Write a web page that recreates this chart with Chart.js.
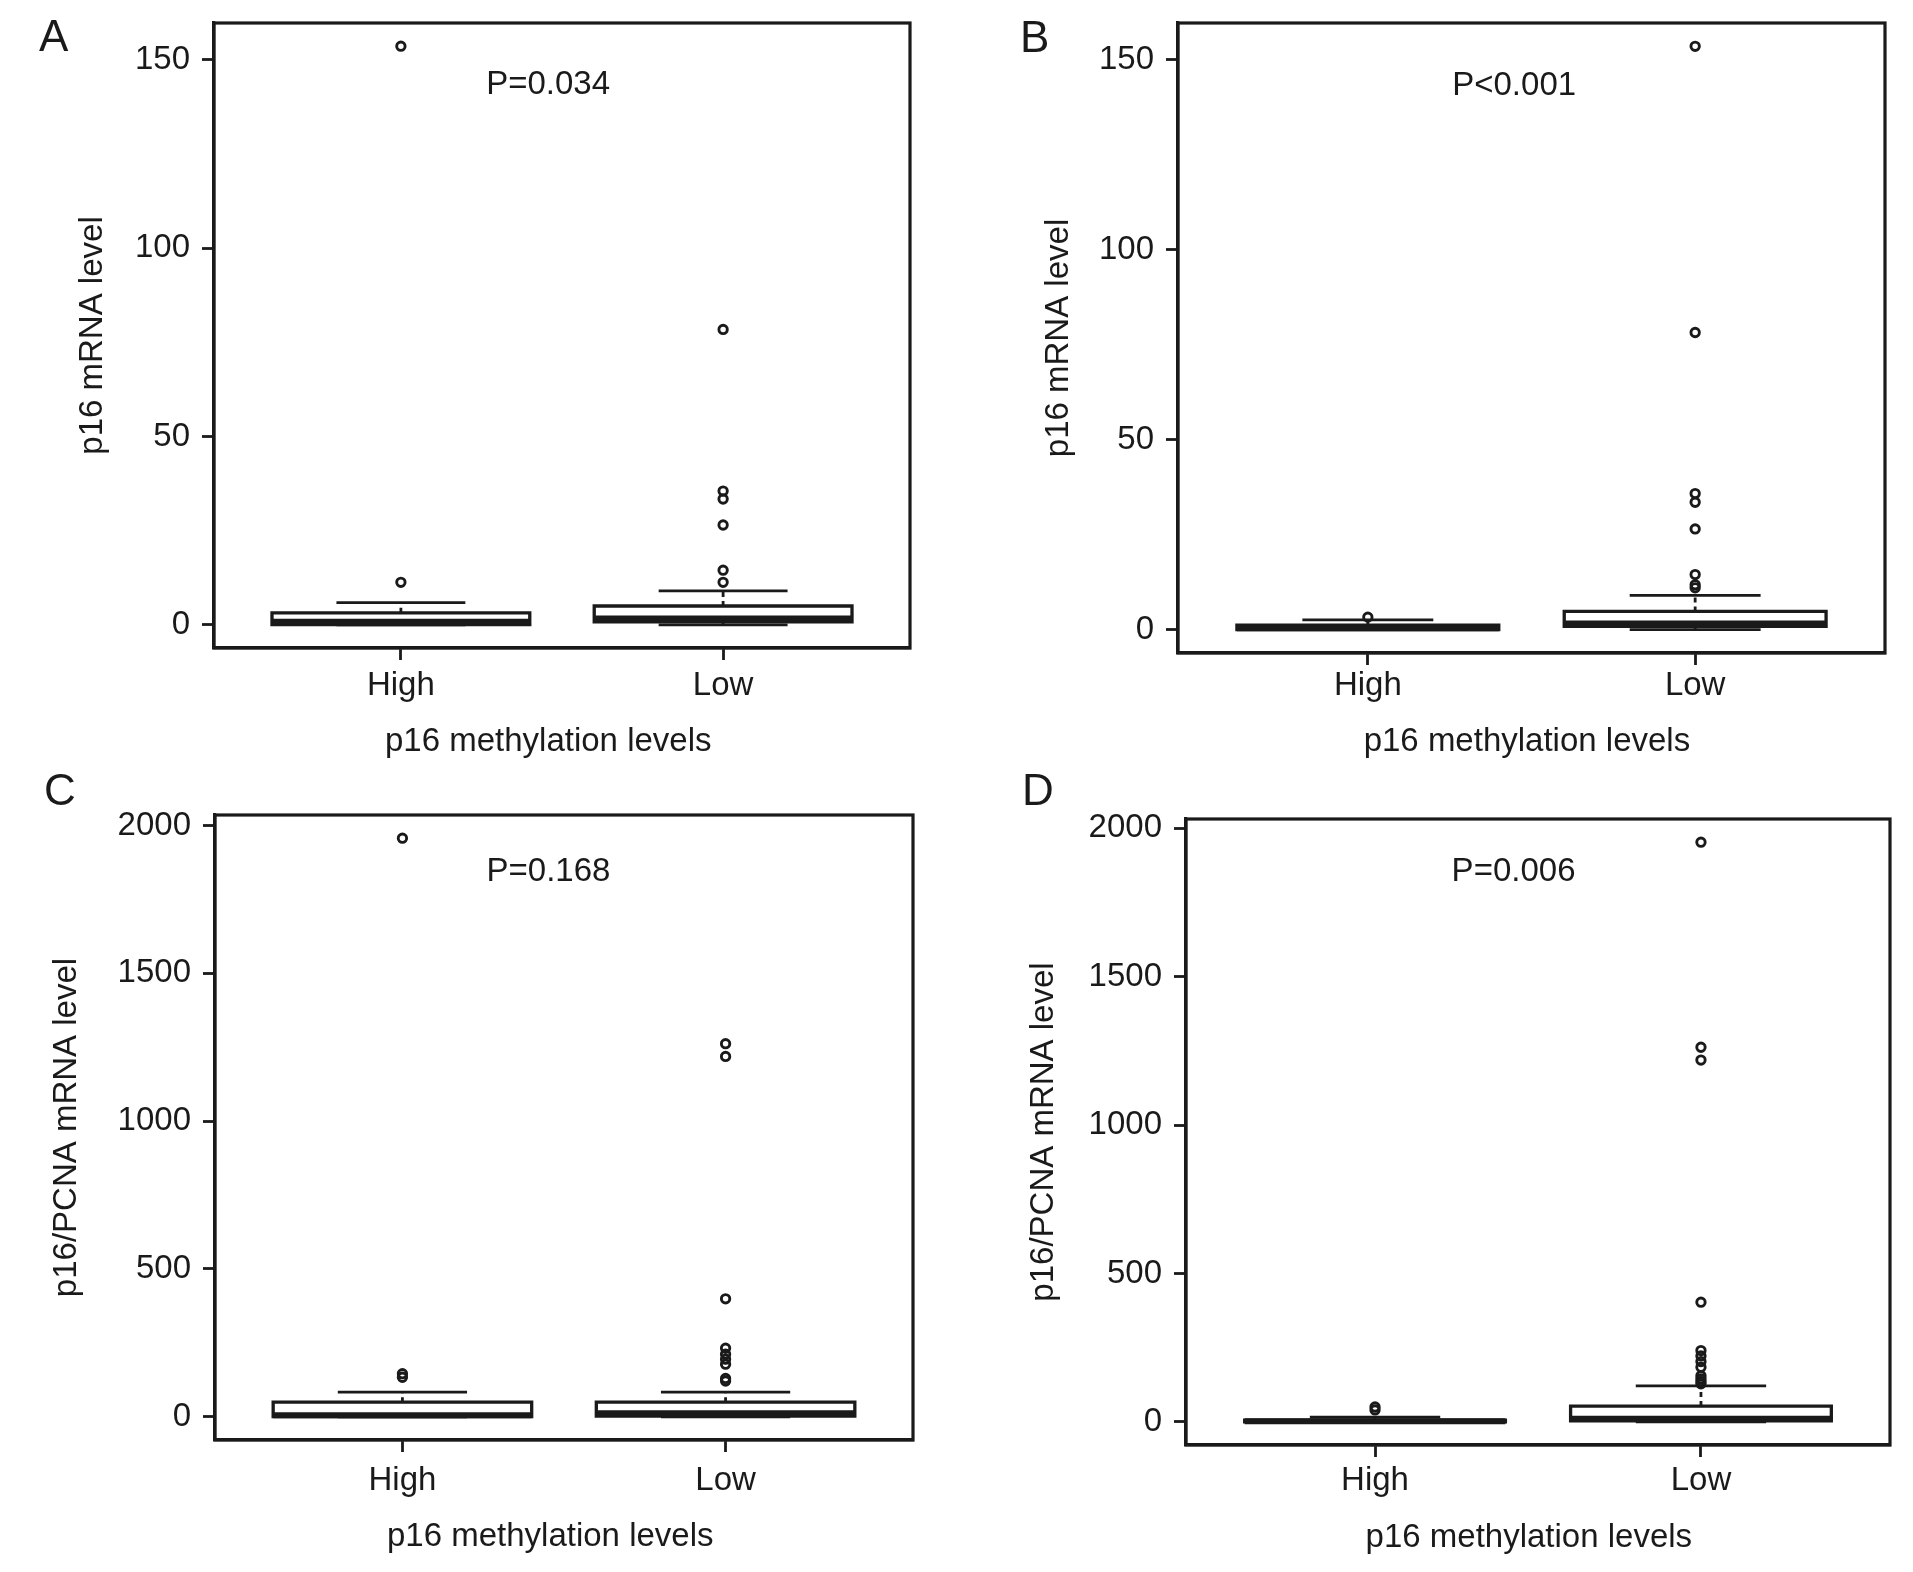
<!DOCTYPE html>
<html>
<head>
<meta charset="utf-8">
<script src="https://cdn.jsdelivr.net/npm/chart.js@4.4.1/dist/chart.umd.min.js"></script>
<style>
  html, body { margin: 0; padding: 0; background: #ffffff; }
  body { width: 1913px; height: 1572px; position: relative; overflow: hidden; }
  canvas { position: absolute; }
</style>
</head>
<body>
<script>
// ---------------- DATA ----------------
const categories = ['High', 'Low'];
const yTicksMRNA = [0, 50, 100, 150];
const yTicksRatio = [0, 500, 1000, 1500, 2000];
const pLabels = ['P=0.034', 'P<0.001', 'P=0.168', 'P=0.006'];
const panelLetters = ['A', 'B', 'C', 'D'];
const yTitleMRNA = 'p16 mRNA level';
const yTitleRatio = 'p16/PCNA mRNA level';
const xTitle = 'p16 methylation levels';

// box stats: [lower whisker, Q1, median, Q3, upper whisker]
const statsA_High = [0, 0.1, 0.8, 3.2, 5.9];
const statsA_Low  = [0, 0.8, 1.7, 5.0, 9.0];
const outliersA_High = [153.6, 11.3];
const outliersA_Low  = [78.4, 35.5, 33.4, 26.5, 14.5, 11.3];

const statsB_High = [0, 0, 0.4, 1.2, 2.6];
const statsB_Low  = [0, 0.9, 1.6, 4.8, 9.0];
const outliersB_High = [3.3];
const outliersB_Low  = [153.5, 78.2, 35.8, 33.5, 26.5, 14.5, 11.8, 11.0];

const statsC_High = [0, 0.5, 5.6, 49.6, 83.5];
const statsC_Low  = [0, 2.8, 12.0, 49.6, 83.5];
const outliersC_High = [1957, 146, 134];
const outliersC_Low  = [1262, 1219, 399, 232, 212, 195, 178, 130, 121];

const statsD_High = [0, 0.3, 1.5, 5.5, 16];
const statsD_Low  = [0, 3.5, 10.0, 53, 121];
const outliersD_High = [50, 40];
const outliersD_Low  = [1953, 1262, 1219, 403, 240, 222, 203, 184, 155, 145, 136, 128];

// ---------------- LAYOUT (page pixels) ----------------
const FONT = '"Liberation Sans", Arial, Helvetica, sans-serif';
const INK = '#1a1a1a';
const panels = [
  { canvas: [0, 0, 956, 766],    plot: [214, 23, 910, 648],   yTitleX: 93,  xTitleY: 742, xLabelY: 686, xTitleShift: 3,
    stats: [statsA_High, statsA_Low], outliers: [outliersA_High, outliersA_Low], yTicks: yTicksMRNA, yTitle: yTitleMRNA,
    p: pLabels[0], pPos: [1.457, 143.2], letter: panelLetters[0], letterPos: [39, 51] },
  { canvas: [956, 0, 957, 766],  plot: [1178, 23, 1885, 653], yTitleX: 1059, xTitleY: 742, xLabelY: 686, xTitleShift: 1,
    stats: [statsB_High, statsB_Low], outliers: [outliersB_High, outliersB_Low], yTicks: yTicksMRNA, yTitle: yTitleMRNA,
    p: pLabels[1], pPos: [1.447, 143.2], letter: panelLetters[1], letterPos: [1020, 52] },
  { canvas: [0, 766, 956, 806],  plot: [215, 815, 913, 1440], yTitleX: 67,  xTitleY: 1537, xLabelY: 1481, xTitleShift: 3,
    stats: [statsC_High, statsC_Low], outliers: [outliersC_High, outliersC_Low], yTicks: yTicksRatio, yTitle: yTitleRatio,
    p: pLabels[2], pPos: [1.452, 1844], letter: panelLetters[2], letterPos: [44, 805] },
  { canvas: [956, 766, 957, 806], plot: [1186, 819, 1890, 1445], yTitleX: 1044, xTitleY: 1538, xLabelY: 1481, xTitleShift: 2,
    stats: [statsD_High, statsD_Low], outliers: [outliersD_High, outliersD_Low], yTicks: yTicksRatio, yTitle: yTitleRatio,
    p: pLabels[3], pPos: [1.425, 1854], letter: panelLetters[3], letterPos: [1022, 805] }
];

const boxPlugin = {
  id: 'boxplots',
  beforeDatasetsDraw(chart) {
    const cfg = chart.options.plugins.boxplots;
    const { ctx, scales: { x, y } } = chart;
    ctx.save();
    cfg.stats.forEach((s, i) => {
      const [lo, q1, med, q3, hi] = s;
      const cx = x.getPixelForValue(i + 1);
      const hw = x.getPixelForValue(i + 1 + 0.4) - cx;
      const sw = hw / 2;
      const pLo = y.getPixelForValue(lo), pQ1 = y.getPixelForValue(q1), pMed = y.getPixelForValue(med);
      const pQ3 = y.getPixelForValue(q3), pHi = y.getPixelForValue(hi);
      ctx.strokeStyle = INK;
      // whiskers (dashed)
      ctx.lineWidth = 2.8;
      ctx.setLineDash([5, 4]);
      ctx.beginPath();
      ctx.moveTo(cx, pQ3); ctx.lineTo(cx, pHi);
      ctx.moveTo(cx, pQ1); ctx.lineTo(cx, pLo);
      ctx.stroke();
      ctx.setLineDash([]);
      // staples
      ctx.beginPath();
      ctx.moveTo(cx - sw, pHi); ctx.lineTo(cx + sw, pHi);
      ctx.moveTo(cx - sw, pLo); ctx.lineTo(cx + sw, pLo);
      ctx.stroke();
      // box
      ctx.fillStyle = '#ffffff';
      ctx.lineWidth = 3.3;
      ctx.beginPath();
      ctx.rect(cx - hw, pQ3, 2 * hw, pQ1 - pQ3);
      ctx.fill();
      ctx.stroke();
      // median
      ctx.lineWidth = 6;
      ctx.beginPath();
      ctx.moveTo(cx - hw, pMed); ctx.lineTo(cx + hw, pMed);
      ctx.stroke();
    });
    ctx.restore();
  },
  afterDraw(chart) {
    const cfg = chart.options.plugins.boxplots;
    const { ctx, chartArea: a, scales: { x, y } } = chart;
    ctx.save();
    ctx.strokeStyle = INK;
    ctx.lineWidth = 3.2;
    ctx.strokeRect(a.left, a.top, a.right - a.left, a.bottom - a.top);
    ctx.fillStyle = INK;
    ctx.font = '33px ' + FONT;
    ctx.textAlign = 'center';
    ctx.textBaseline = 'middle';
    ctx.fillText(cfg.p, x.getPixelForValue(cfg.pPos[0]), y.getPixelForValue(cfg.pPos[1]));
    ctx.font = '44px ' + FONT;
    ctx.textAlign = 'left';
    ctx.textBaseline = 'alphabetic';
    ctx.fillText(cfg.letter, cfg.letterPos[0], cfg.letterPos[1]);
    ctx.restore();
  }
};

panels.forEach((pn) => {
  const [cx0, cy0, cw, ch] = pn.canvas;
  const [l, t, r, b] = pn.plot;
  const cv = document.createElement('canvas');
  cv.width = cw; cv.height = ch;
  cv.style.left = cx0 + 'px'; cv.style.top = cy0 + 'px';
  cv.style.width = cw + 'px'; cv.style.height = ch + 'px';
  document.body.appendChild(cv);

  const all = pn.stats.flatMap(s => s).concat(pn.outliers.flat());
  const dmin = Math.min(...all), dmax = Math.max(...all);
  const ext = (dmax - dmin) * 0.04;

  const pts = [];
  pn.outliers.forEach((arr, i) => arr.forEach(v => pts.push({ x: i + 1, y: v })));

  const lh = 33 * 1.2 / 2;
  const tickLen = 12;
  new Chart(cv, {
    type: 'scatter',
    data: {
      datasets: [{
        data: pts,
        pointStyle: 'circle',
        pointRadius: 4.2,
        pointBorderWidth: 2.9,
        pointBorderColor: INK,
        pointBackgroundColor: 'rgba(255,255,255,0)',
        showLine: false,
        clip: false
      }]
    },
    options: {
      responsive: false,
      animation: false,
      devicePixelRatio: 1,
      events: [],
      layout: { padding: { left: 0, top: t - cy0, right: cx0 + cw - r, bottom: 0 } },
      plugins: {
        legend: { display: false },
        tooltip: { enabled: false },
        boxplots: {
          stats: pn.stats, p: pn.p, pPos: pn.pPos,
          letter: pn.letter, letterPos: [pn.letterPos[0] - cx0, pn.letterPos[1] - cy0]
        }
      },
      scales: {
        x: {
          type: 'linear',
          min: 0.42, max: 2.58,
          afterBuildTicks: s => { s.ticks = categories.map((c, i) => ({ value: i + 1 })); },
          afterFit: s => { s.height = cy0 + ch - b; s.paddingLeft = 0; s.paddingRight = 0; },
          ticks: {
            callback: v => categories[Math.round(v) - 1],
            autoSkip: false, maxRotation: 0, minRotation: 0,
            font: { family: FONT, size: 33 }, color: INK,
            padding: Math.max(0, pn.xLabelY - b - tickLen - lh)
          },
          grid: { drawOnChartArea: false, drawTicks: true, tickLength: tickLen, tickWidth: 2.8, tickColor: INK },
          border: { display: true, color: INK, width: 3.2 },
          title: {
            display: true, text: xTitle + ' '.repeat(pn.xTitleShift), color: INK,
            font: { family: FONT, size: 33 },
            padding: { top: 0, bottom: (cy0 + ch - pn.xTitleY) - lh }
          }
        },
        y: {
          type: 'linear',
          min: dmin - ext, max: dmax + ext,
          afterBuildTicks: s => { s.ticks = pn.yTicks.map(v => ({ value: v })); },
          afterFit: s => { s.width = l - cx0; s.paddingTop = 0; s.paddingBottom = 0; },
          ticks: {
            callback: v => String(v),
            font: { family: FONT, size: 33 }, color: INK, padding: 12
          },
          grid: { drawOnChartArea: false, drawTicks: true, tickLength: tickLen, tickWidth: 2.8, tickColor: INK },
          border: { display: true, color: INK, width: 3.2 },
          title: {
            display: true, text: pn.yTitle, color: INK,
            font: { family: FONT, size: 33 },
            padding: { top: (pn.yTitleX - cx0) - lh, bottom: 0 }
          }
        }
      }
    },
    plugins: [boxPlugin]
  });
});
</script>
</body>
</html>
